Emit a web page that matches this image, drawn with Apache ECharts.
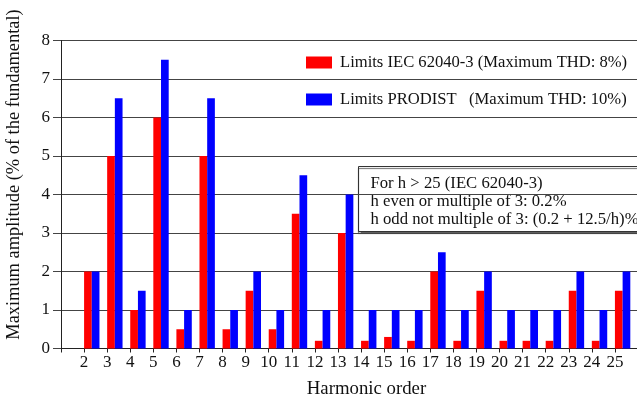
<!DOCTYPE html>
<html>
<head>
<meta charset="utf-8">
<script src="https://cdn.jsdelivr.net/npm/echarts@6/dist/echarts.min.js"></script>
<style>
    html, body { margin: 0; padding: 0; background: #fff; }
    #chart { width: 637px; height: 398px; }
</style>
</head>
<body>
<div id="chart"></div>
<script>
    // harmonic orders shown on the x axis
    const harmonics = [2, 3, 4, 5, 6, 7, 8, 9, 10, 11, 12, 13, 14, 15, 16, 17, 18, 19, 20, 21, 22, 23, 24, 25]
    // limits, % of the fundamental
    const iecLimits = [2, 5, 1, 6, 0.5, 5, 0.5, 1.5, 0.5, 3.5, 0.2, 3, 0.2, 0.3, 0.2, 2, 0.2, 1.5, 0.2, 0.2, 0.2, 1.5, 0.2, 1.5]
    const prodistLimits = [2, 6.5, 1.5, 7.5, 1, 6.5, 1, 2, 1, 4.5, 1, 4, 1, 1, 1, 2.5, 1, 2, 1, 1, 1, 2, 1, 2]
    const yTicks = [0, 1, 2, 3, 4, 5, 6, 7, 8]

    const name1 = 'Limits IEC 62040-3 (Maximum THD: 8%)'
    const name2 = 'Limits PRODIST   (Maximum THD: 10%)'
    const noteLines = [
        'For h > 25 (IEC 62040-3)',
        'h even or multiple of 3: 0.2%',
        'h odd not multiple of 3: (0.2 + 12.5/h)%'
    ]

    const font = 'Liberation Serif'
    // first band (h = 1) sits between the y axis and the tick "2"
    const bands = [1].concat(harmonics)
    const pad = (arr) => [null].concat(arr)

    const chart = echarts.init(document.getElementById('chart'))

    const option = {
        animation: false,
        textStyle: { fontFamily: font, color: '#000' },
        grid: { left: 61, top: 40.5, right: -1, bottom: 49.5, outerBoundsMode: 'none' },
        legend: {
            data: [name1, name2],
            orient: 'vertical',
            left: 301,
            top: 49,
            itemWidth: 26,
            itemHeight: 12,
            itemGap: 20,
            icon: 'rect',
            textStyle: { fontFamily: font, fontSize: 16.6, color: '#111', padding: [0, 0, 0, 3] }
        },
        xAxis: [
            {
                type: 'category',
                data: bands,
                boundaryGap: true,
                axisLine: { lineStyle: { color: '#222', width: 1 } },
                axisTick: { inside: true, length: 4, lineStyle: { color: '#222' } },
                axisLabel: { show: false },
                splitLine: { show: false }
            },
            {
                type: 'value',
                position: 'bottom',
                min: 1,
                max: 26,
                interval: 1,
                axisLine: { show: false },
                axisTick: { length: 4, lineStyle: { color: '#222' } },
                splitLine: { show: false },
                axisLabel: {
                    margin: 6,
                    fontFamily: font,
                    fontSize: 17,
                    color: '#111',
                    formatter: (v) => harmonics.indexOf(v) > -1 ? String(v) : ''
                },
                name: 'Harmonic order',
                nameLocation: 'middle',
                nameGap: 31,
                nameTextStyle: { fontFamily: font, fontSize: 18.8, color: '#111', padding: [0, 0, 0, 34] }
            }
        ],
        yAxis: {
            type: 'value',
            min: yTicks[0],
            max: yTicks[yTicks.length - 1],
            interval: 1,
            axisLine: { show: true, lineStyle: { color: '#222' } },
            axisTick: { show: true, length: 8, lineStyle: { color: '#444' } },
            splitLine: { lineStyle: { color: '#444', width: 1.2 } },
            axisLabel: { margin: 11, fontFamily: font, fontSize: 17, color: '#111' },
            name: 'Maximum amplitude (% of the fundamental)',
            nameLocation: 'middle',
            nameGap: 38,
            nameTextStyle: { fontFamily: font, fontSize: 18.4, color: '#111', padding: [0, 0, 0, 40] }
        },
        series: [
            {
                name: name1,
                type: 'bar',
                xAxisIndex: 0,
                barGap: '0%',
                barCategoryGap: '0%',
                itemStyle: { color: '#ff0000' },
                data: pad(iecLimits)
            },
            {
                name: name2,
                type: 'bar',
                xAxisIndex: 0,
                barGap: '0%',
                barCategoryGap: '0%',
                itemStyle: { color: '#0000ff' },
                data: pad(prodistLimits)
            },
            {
                // empty slot so the two bars start at the tick
                name: 'spacer',
                type: 'bar',
                xAxisIndex: 0,
                barGap: '0%',
                barCategoryGap: '0%',
                data: bands.map(() => null)
            }
        ],
        graphic: [
            {
                type: 'group',
                left: 358,
                top: 166,
                children: [
                    {
                        type: 'rect',
                        shape: { x: 0, y: 0, width: 300, height: 65 },
                        style: {
                            fill: '#fff',
                            stroke: '#333',
                            lineWidth: 1,
                            shadowColor: 'rgba(0,0,0,0.6)',
                            shadowOffsetY: 2,
                            shadowBlur: 1
                        }
                    },
                    {
                        type: 'text',
                        x: 12,
                        y: 8,
                        style: {
                            text: noteLines.join('\n'),
                            font: '16.7px "' + font + '"',
                            lineHeight: 18,
                            fill: '#111'
                        }
                    }
                ]
            }
        ]
    }

    chart.setOption(option)
</script>
</body>
</html>
